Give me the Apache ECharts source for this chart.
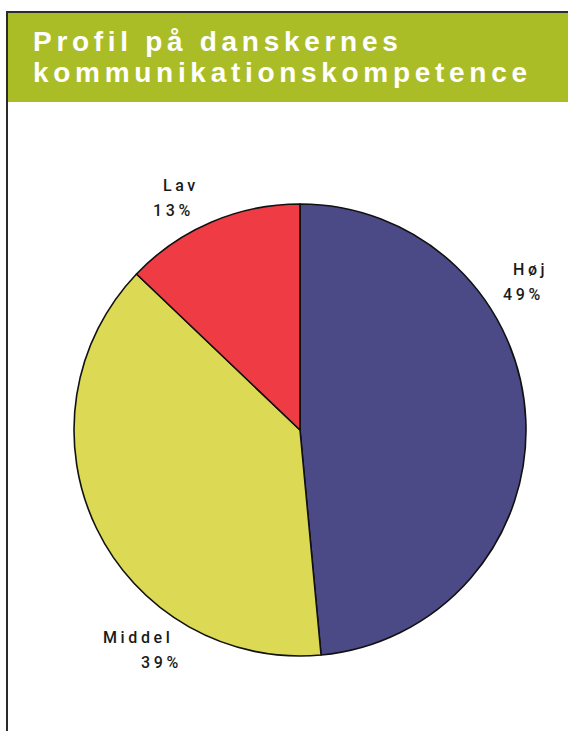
<!DOCTYPE html>
<html>
<head>
<meta charset="utf-8">
<style>
    html, body { margin: 0; padding: 0; background: #fff; }
    #komp_chart { width: 568px; height: 731px; }
    /* ECharts has no letter-spacing option, the svg text takes it from css */
    #komp_chart text[style*="28px"] { letter-spacing: 4.7px; }
    #komp_chart text[style*="16px"] { letter-spacing: 3.6px; }
</style>
<script src="https://cdn.jsdelivr.net/npm/echarts@6/dist/echarts.min.js"></script>
</head>
<body>
<div id="komp_chart"></div>
<script>
let titleLines = ['Profil på danskernes', 'kommunikationskompetence'];
let categories = ['Høj', 'Middel', 'Lav'];
let percents = [49, 39, 13];
let colors = ['#4b4a86', '#dcd955', '#ee3b44'];

// label spots: [x, y, name indent, percent indent]
let labelSpots = [
    [503, 257, 10, 0],
    [103, 625, 0, 38],
    [153, 173, 10, 0]
];

let myChart = echarts.init(document.getElementById('komp_chart'), null, {renderer: 'svg'});

let pieData = [];
for (let i = 0; i < categories.length; i++) {
    let spot = labelSpots[i];
    pieData.push({
        name: categories[i],
        value: percents[i],
        itemStyle: {color: colors[i]},
        label: {
            rich: {
                n: {fontSize: 16, lineHeight: 25, color: '#1a1a1a', fontWeight: 500, fontFamily: 'Roboto, "Liberation Sans"', padding: [0, 0, 0, spot[2]]},
                p: {fontSize: 16, lineHeight: 25, color: '#1a1a1a', fontWeight: 500, fontFamily: 'Roboto, "Liberation Sans"', padding: [0, 0, 0, spot[3]]}
            }
        }
    });
}

let option = {
    animation: false,
    graphic: [
        {
            type: 'rect',
            z: -2,
            shape: {x: 7, y: 12, width: 620, height: 800},
            style: {fill: '#fff', stroke: '#2b2b2b', lineWidth: 2}
        },
        {
            type: 'rect',
            z: -1,
            shape: {x: 8, y: 13, width: 560, height: 89},
            style: {fill: '#abbd26'}
        }
    ],
    title: {
        text: titleLines.join('\n'),
        left: 33,
        top: 26,
        padding: 0,
        textStyle: {
            color: '#fff',
            fontSize: 28,
            lineHeight: 31,
            fontWeight: 'bold',
            fontFamily: '"Liberation Sans", Arial'
        }
    },
    series: [{
        type: 'pie',
        center: [300, 430],
        radius: 226,
        startAngle: 90,
        clockwise: true,
        itemStyle: {borderColor: '#111', borderWidth: 1.6},
        label: {
            position: 'outside',
            overflow: 'none',
            formatter: '{n|{b}}\n{p|{c}%}'
        },
        labelLine: {show: false},
        labelLayout: function (params) {
            let spot = labelSpots[params.dataIndex];
            return {x: spot[0], y: spot[1], align: 'left', verticalAlign: 'top'};
        },
        emphasis: {disabled: true},
        data: pieData
    }]
};
myChart.setOption(option);
</script>
</body>
</html>
